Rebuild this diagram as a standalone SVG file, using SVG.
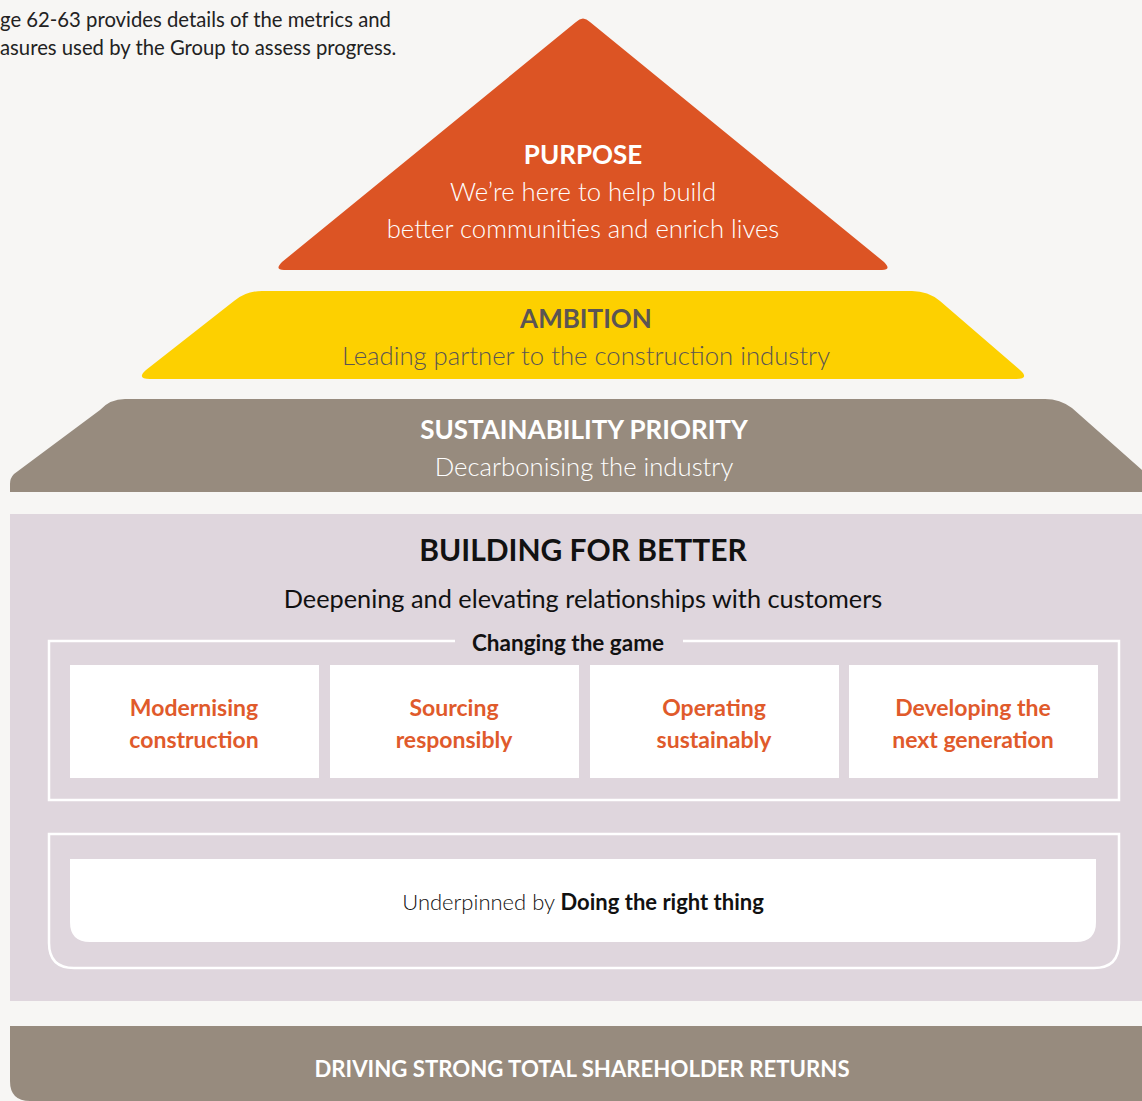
<svg xmlns="http://www.w3.org/2000/svg" width="1142" height="1101" viewBox="0 0 1142 1101">
<style>
text{font-family:Lato,"Noto Sans","Liberation Sans",sans-serif;text-anchor:middle}
.note{font-size:20.3px;fill:#222;text-anchor:start}
.h{font-weight:700;font-size:26px}
.l{font-weight:300;font-size:25.7px}
.w{fill:#fff}
.g{fill:#5b5553}
.pill{font-size:23px;font-weight:700;fill:#e05a2b}
.frame{fill:none;stroke:#fff;stroke-width:2.5}
</style>
<rect width="1142" height="1101" fill="#f7f6f4"/>
<text class="note" x="0" y="27">ge 62-63 provides details of the metrics and</text>
<text class="note" x="0" y="55">asures used by the Group to assess progress.</text>

<g id="purpose">
<path d="M576 22 Q583 15 590 22 L884 262 Q892 270 882 270 L284 270 Q274 270 282 262 Z" fill="#dc5424"/>
<text class="h w" x="583" y="164">PURPOSE</text>
<text class="l w" x="583" y="201">We’re here to help build</text>
<text class="l w" x="583" y="238">better communities and enrich lives</text>
</g>

<g id="ambition">
<path d="M262 291 L912 291 Q928 291 940 301 L1020 370 Q1030 379 1016 379 L150 379 Q136 379 146 370 L234 301 Q246 291 262 291 Z" fill="#fdd000"/>
<text class="h g" x="586" y="328">AMBITION</text>
<text class="l g" x="586" y="365">Leading partner to the construction industry</text>
</g>

<g id="sustainability">
<path d="M125 399 L1045 399 Q1060 399 1072 408 L1142 470 L1142 492 L10 492 L10 484 Q10 478 14 474 L100 410 Q110 399 125 399 Z" fill="#978b7e"/>
<text class="h w" x="584" y="439">SUSTAINABILITY PRIORITY</text>
<text class="l w" x="584" y="476">Decarbonising the industry</text>
</g>

<g id="building">
<rect x="10" y="514" width="1132" height="487" fill="#dfd6dd"/>
<text x="583" y="561" style="font-weight:700;font-size:30px;fill:#111">BUILDING FOR BETTER</text>
<text x="583" y="608" style="font-weight:400;font-size:25.3px;fill:#111">Deepening and elevating relationships with customers</text>
</g>

<g id="changing-the-game">
<path class="frame" d="M455 641 L49 641 L49 800 L1119 800 L1119 641 L683 641"/>
<text x="568" y="651" style="font-weight:700;font-size:22.5px;fill:#111">Changing the game</text>
</g>

<g id="modernising">
<rect x="70" y="665" width="249" height="113" fill="#fff"/>
<text class="pill" x="194" y="716">Modernising</text>
<text class="pill" x="194" y="748">construction</text>
</g>
<g id="sourcing">
<rect x="330" y="665" width="249" height="113" fill="#fff"/>
<text class="pill" x="454" y="716">Sourcing</text>
<text class="pill" x="454" y="748">responsibly</text>
</g>
<g id="operating">
<rect x="590" y="665" width="249" height="113" fill="#fff"/>
<text class="pill" x="714" y="716">Operating</text>
<text class="pill" x="714" y="748">sustainably</text>
</g>
<g id="developing">
<rect x="849" y="665" width="249" height="113" fill="#fff"/>
<text class="pill" x="973" y="716">Developing the</text>
<text class="pill" x="973" y="748">next generation</text>
</g>

<g id="underpinned">
<path class="frame" d="M49 834 L1119 834 L1119 943 Q1119 968 1094 968 L74 968 Q49 968 49 943 Z"/>
<path d="M70 859 L1096 859 L1096 922 Q1096 942 1076 942 L90 942 Q70 942 70 922 Z" fill="#fff"/>
<text x="583" y="910" style="font-size:22px;fill:#111"><tspan style="font-weight:300">Underpinned by </tspan><tspan style="font-weight:700">Doing the right thing</tspan></text>
</g>

<g id="returns">
<path d="M10 1026 L1142 1026 L1142 1101 L30 1101 Q10 1101 10 1081 Z" fill="#978b7e"/>
<text class="w" x="582" y="1077" style="font-size:22.2px;font-weight:700">DRIVING STRONG TOTAL SHAREHOLDER RETURNS</text>
</g>

<g id="connectors"></g>
</svg>
